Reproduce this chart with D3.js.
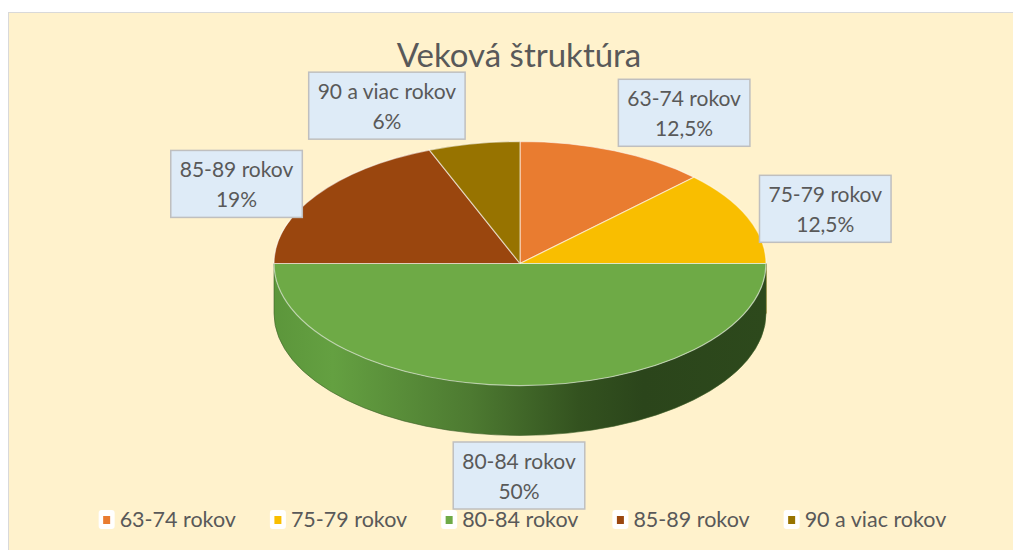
<!DOCTYPE html>
<html>
<head>
<meta charset="utf-8">
<script src="https://cdn.jsdelivr.net/npm/d3@7"></script>
<style>
  html, body { margin: 0; padding: 0; background: #ffffff; }
  svg { display: block; }
</style>
</head>
<body>
<svg id="chart" width="1013" height="550"></svg>
<script>
// ---- data ----
const title = "Veková štruktúra";
const categories = ["63-74 rokov", "75-79 rokov", "80-84 rokov", "85-89 rokov", "90 a viac rokov"];
const values = [12.5, 12.5, 50, 19, 6];
const valueLabels = ["12,5%", "12,5%", "50%", "19%", "6%"];
const colors = ["#E97C30", "#F9BE00", "#6EAA46", "#9A460E", "#977300"];

// ---- layout ----
const W = 1013, H = 550;
const cx = 520, cy = 263.5, rx = 246, ry = 122, depth = 50;
const font = "Lato, 'Open Sans', sans-serif";
const textColor = "#595959";
// label box offsets relative to the slice's anchor on the rim (layout only)
const labelOffset = [[70, -38], [78, -8], [-1, 40], [-80, -11], [-87, -38]];

const svg = d3.select("#chart");

// background
svg.append("rect").attr("x", 8.5).attr("y", 12.5).attr("width", W).attr("height", H)
  .attr("fill", "#FFF2CC").attr("stroke", "#D9D9D9").attr("stroke-width", 1);

// title
svg.append("text").attr("x", 519).attr("y", 67).attr("text-anchor", "middle")
  .attr("font-family", font).attr("font-size", 33).attr("fill", textColor).text(title);

const color = d3.scaleOrdinal().domain(categories).range(colors);
const pie = d3.pie().sort(null).value(d => d.v).startAngle(0).endAngle(2 * Math.PI);
const data = categories.map((c, i) => ({ c, v: values[i], lab: valueLabels[i] }));
const arcs = pie(data);

const px = a => cx + rx * Math.sin(a);
const py = (a, dy = 0) => cy - ry * Math.cos(a) + dy;

// side gradient
const defs = svg.append("defs");
const grad = defs.append("linearGradient").attr("id", "sideGrad")
  .attr("gradientUnits", "userSpaceOnUse").attr("x1", cx - rx).attr("x2", cx + rx).attr("y1", 0).attr("y2", 0);
[[0, "#5C963B"], [0.12, "#64A041"], [0.4, "#4D7A31"], [0.62, "#33521F"], [0.75, "#2B451B"], [1, "#2D491C"]]
  .forEach(([o, c]) => grad.append("stop").attr("offset", o).attr("stop-color", c));

// side walls (front half only: angles between PI/2 and 3PI/2)
const gSide = svg.append("g");
arcs.forEach(a => {
  const s = Math.max(a.startAngle, Math.PI / 2), e = Math.min(a.endAngle, 3 * Math.PI / 2);
  if (e <= s) return;
  const large = (e - s) > Math.PI ? 1 : 0;
  const p = `M${px(s)},${py(s)} A${rx},${ry} 0 ${large} 1 ${px(e)},${py(e)}` +
    ` L${px(e)},${py(e, depth)} A${rx},${ry} 0 ${large} 0 ${px(s)},${py(s, depth)} Z`;
  gSide.append("path").attr("d", p).attr("fill", "url(#sideGrad)")
    .attr("stroke", d3.color(color(a.data.c)).darker(1.6)).attr("stroke-width", 0.6);
});

// top faces
const gTop = svg.append("g");
arcs.forEach(a => {
  const s = a.startAngle, e = a.endAngle;
  const large = (e - s) > Math.PI ? 1 : 0;
  const p = `M${cx},${cy} L${px(s)},${py(s)} A${rx},${ry} 0 ${large} 1 ${px(e)},${py(e)} Z`;
  gTop.append("path").attr("d", p).attr("fill", color(a.data.c))
    .attr("stroke", "rgba(255,255,255,0.55)").attr("stroke-width", 1.2).attr("stroke-linejoin", "round");
});

// data labels
const gLab = svg.append("g").attr("font-family", font).attr("font-size", 21).attr("fill", textColor);
arcs.forEach((a, i) => {
  const m = (a.startAngle + a.endAngle) / 2;
  let ax = px(m), ay = py(m);
  if (m > Math.PI / 2 && m < 3 * Math.PI / 2) ay += depth;
  const bx = ax + labelOffset[i][0], by = ay + labelOffset[i][1];
  const g = gLab.append("g");
  const rect = g.append("rect");
  const t1 = g.append("text").attr("x", bx).attr("y", by - 6.5).attr("text-anchor", "middle").text(a.data.c);
  const t2 = g.append("text").attr("x", bx).attr("y", by + 23.5).attr("text-anchor", "middle").text(a.data.lab);
  const w = Math.max(t1.node().getComputedTextLength(), t2.node().getComputedTextLength()) + 18;
  rect.attr("x", bx - w / 2).attr("y", by - 33.5).attr("width", w).attr("height", 67)
    .attr("fill", "#DEEBF7").attr("stroke", "#BFBFBF").attr("stroke-width", 1.5);
});

// legend
const gLeg = svg.append("g").attr("font-family", font).attr("font-size", 21.5).attr("fill", textColor);
let x = 0;
categories.forEach((c, i) => {
  const g = gLeg.append("g");
  g.append("rect").attr("x", x).attr("y", -17).attr("width", 16).attr("height", 19).attr("rx", 3)
    .attr("fill", "#ffffff");
  g.append("rect").attr("x", x + 4.5).attr("y", -11).attr("width", 7).attr("height", 8).attr("fill", color(c));
  const t = g.append("text").attr("x", x + 21).attr("y", 0).text(c);
  const tw = t.node().getComputedTextLength();
  x += 21 + tw + 34;
});
const totalW = x - 34;
gLeg.attr("transform", `translate(${522.5 - totalW / 2},527)`);
</script>
</body>
</html>
